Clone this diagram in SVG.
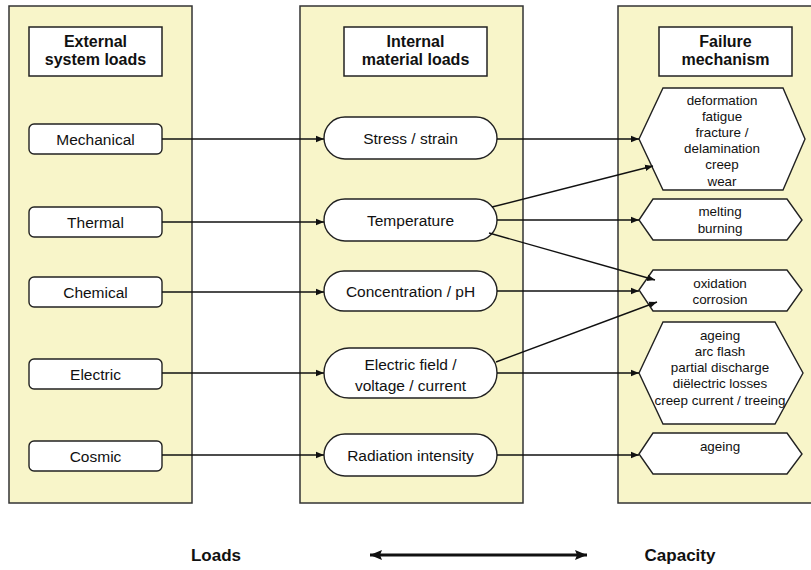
<svg xmlns="http://www.w3.org/2000/svg" width="811" height="570" viewBox="0 0 811 570">
<defs>
<style>
.panel{fill:#f8f5c9;stroke:#333;stroke-width:1.5}
.hdr{fill:#fff;stroke:#222;stroke-width:1.5}
.box{fill:#fff;stroke:#222;stroke-width:1.4}
.t{font-family:"Liberation Sans",Arial,sans-serif;font-size:15.5px;fill:#111;text-anchor:middle}
.b{font-weight:bold;font-size:16px}
.s{font-family:"Liberation Sans",Arial,sans-serif;font-size:13.4px;fill:#111;text-anchor:middle}
.c{stroke:#111;stroke-width:1.4;fill:none;marker-end:url(#ah)}
.lg{font-family:"Liberation Sans",Arial,sans-serif;font-size:17px;font-weight:bold;fill:#111;text-anchor:middle}
</style>
<marker id="ah" markerUnits="userSpaceOnUse" markerWidth="9" markerHeight="8" refX="8" refY="4" orient="auto">
<path d="M0,0.8 L8,4 L0,7.2 Z" fill="#111"/>
</marker>
<marker id="bh" markerUnits="userSpaceOnUse" markerWidth="14" markerHeight="12" refX="12" refY="6" orient="auto-start-reverse">
<path d="M0,1 L12,6 L0,11 L2,6 Z" fill="#111"/>
</marker>
</defs>
<g id="panels">
<rect class="panel" x="9" y="6" width="183" height="497"/>
<rect class="panel" x="300" y="6" width="223" height="497"/>
<rect class="panel" x="618" y="6" width="200" height="497"/>
</g>
<g id="headers">
<g id="h-external"><rect class="hdr" x="29" y="27" width="133" height="49"/><text class="t b" x="95.5" y="47">External</text><text class="t b" x="95.5" y="65">system loads</text></g>
<g id="h-internal"><rect class="hdr" x="344" y="27" width="143" height="49"/><text class="t b" x="415.5" y="47">Internal</text><text class="t b" x="415.5" y="65">material loads</text></g>
<g id="h-failure"><rect class="hdr" x="659" y="27" width="133" height="49"/><text class="t b" x="725.5" y="47">Failure</text><text class="t b" x="725.5" y="65">mechanism</text></g>
</g>
<g id="external">
<g id="n-mechanical"><rect class="box" x="29" y="124" width="133" height="30" rx="5"/><text class="t" x="95.5" y="145">Mechanical</text></g>
<g id="n-thermal"><rect class="box" x="29" y="207" width="133" height="30" rx="5"/><text class="t" x="95.5" y="228">Thermal</text></g>
<g id="n-chemical"><rect class="box" x="29" y="277" width="133" height="30" rx="5"/><text class="t" x="95.5" y="298">Chemical</text></g>
<g id="n-electric"><rect class="box" x="29" y="359" width="133" height="30" rx="5"/><text class="t" x="95.5" y="380">Electric</text></g>
<g id="n-cosmic"><rect class="box" x="29" y="441" width="133" height="30" rx="5"/><text class="t" x="95.5" y="462">Cosmic</text></g>
</g>
<g id="internal">
<g id="n-stress"><rect class="box" x="324" y="117" width="173" height="42" rx="21"/><text class="t" x="410.5" y="144">Stress / strain</text></g>
<g id="n-temperature"><rect class="box" x="324" y="199" width="173" height="42" rx="21"/><text class="t" x="410.5" y="226">Temperature</text></g>
<g id="n-concentration"><rect class="box" x="324" y="271" width="173" height="40" rx="20"/><text class="t" x="410.5" y="297">Concentration / pH</text></g>
<g id="n-efield"><rect class="box" x="324" y="348" width="173" height="50" rx="25"/><text class="t" x="410.5" y="370">Electric field /</text><text class="t" x="410.5" y="391">voltage / current</text></g>
<g id="n-radiation"><rect class="box" x="324" y="434" width="173" height="42" rx="21"/><text class="t" x="410.5" y="461">Radiation intensity</text></g>
</g>
<g id="failure">
<g id="n-mech-fail"><polygon class="box" points="639,139 663,88 783,88 805,139 783,190 663,190"/>
<text class="s" x="722" y="105">deformation</text><text class="s" x="722" y="121">fatigue</text><text class="s" x="722" y="137">fracture /</text><text class="s" x="722" y="153">delamination</text><text class="s" x="722" y="169">creep</text><text class="s" x="722" y="186">wear</text></g>
<g id="n-melting"><polygon class="box" points="639,220 653,199 787,199 802,220 787,240 653,240"/>
<text class="s" x="720" y="216">melting</text><text class="s" x="720" y="233">burning</text></g>
<g id="n-oxidation"><polygon class="box" points="639,290 653,270 787,270 802,290 787,311 653,311"/>
<text class="s" x="720" y="288">oxidation</text><text class="s" x="720" y="304">corrosion</text></g>
<g id="n-elec-fail"><polygon class="box" points="639,373 663,322 775,322 803,373 775,424 663,424"/>
<text class="s" x="720" y="340">ageing</text><text class="s" x="720" y="356">arc flash</text><text class="s" x="720" y="372">partial discharge</text><text class="s" x="720" y="388">diëlectric losses</text><text class="s" x="720" y="405">creep current / treeing</text></g>
<g id="n-ageing"><polygon class="box" points="639,454 653,433 787,433 802,454 787,474 653,474"/>
<text class="s" x="720" y="451">ageing</text></g>
</g>
<g id="connectors">
<line class="c" x1="162" y1="139" x2="324" y2="139"/>
<line class="c" x1="162" y1="222" x2="324" y2="222"/>
<line class="c" x1="162" y1="292" x2="324" y2="292"/>
<line class="c" x1="162" y1="373" x2="324" y2="373"/>
<line class="c" x1="162" y1="455" x2="324" y2="455"/>
<line class="c" x1="497" y1="139" x2="639" y2="139"/>
<line class="c" x1="492" y1="207" x2="653" y2="166"/>
<line class="c" x1="497" y1="220" x2="639" y2="220"/>
<line class="c" x1="489" y1="233" x2="655" y2="280"/>
<line class="c" x1="497" y1="291" x2="639" y2="291"/>
<line class="c" x1="496" y1="362" x2="657" y2="302"/>
<line class="c" x1="497" y1="373" x2="639" y2="373"/>
<line class="c" x1="497" y1="455" x2="639" y2="455"/>
</g>
<g id="legend">
<text class="lg" x="216" y="561">Loads</text>
<line x1="370" y1="555" x2="587" y2="555" stroke="#111" stroke-width="3" marker-start="url(#bh)" marker-end="url(#bh)"/>
<text class="lg" x="680" y="561">Capacity</text>
</g>
</svg>
